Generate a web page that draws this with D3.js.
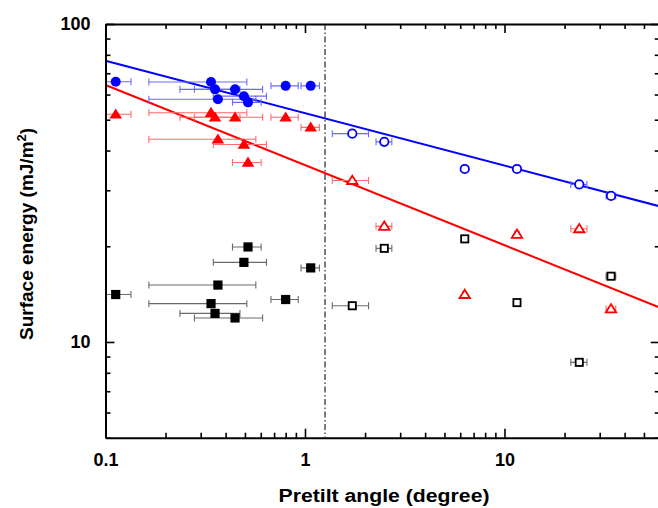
<!DOCTYPE html>
<html><head><meta charset="utf-8">
<script src="https://cdn.jsdelivr.net/npm/d3@7"></script>
<style>
html,body{margin:0;padding:0;background:#fff;}
svg{display:block;font-family:"Liberation Sans",Arial,sans-serif;}
</style></head>
<body><svg id="c" width="658" height="508"></svg>
<script>
// --- data ---
// filled (below boundary) samples
const filledX    = [0.1125, 0.338, 0.354, 0.366, 0.446, 0.494, 0.518, 0.80, 1.068];
const filledXErr = [0.0217, 0.173, 0.118, 0.201, 0.167, 0.147, 0.085, 0.125, 0.113];
const filledBlue = [65.8, 65.7, 62.3, 58.0, 62.3, 59.3, 56.7, 63.9, 63.9];
const filledRed  = [52.0, 52.6, 50.9, 43.4, 50.9, 41.8, 36.7, 50.9, 47.3];
const filledBlack= [14.1, 13.2, 12.3, 15.1, 11.9, 17.8, 19.9, 13.6, 17.1];
// open (above boundary) samples
const openX     = [1.726, 2.497, 6.32, 11.55, 23.7, 34.2];
const openXErr  = [0.356, 0.227, 0.15, 0.3, 2.2, 1.9];
const openBlue  = [45.2, 42.6, 35.0, 35.0, 31.3, 28.8];
const openRed   = [32.2, 23.1, 14.1, 21.8, 22.7, 12.7];
const openBlack = [13.0, 19.7, 21.1, 13.3, 8.63, 16.1];
// power-law fit lines (endpoints)
const fitX     = [0.1, 60];
const fitBlueY = [76.6, 26.7];
const fitRedY  = [64.3, 12.83];
const boundaryX = 1.26;
// axes
const xDomain = [0.1, 60];
const yDomain = [5, 100];
const xTickLabels = [0.1, 1, 10];
const yTickLabels = [10, 100];
const xTitle = "Pretilt angle (degree)";
const yTitle = "Surface energy (mJ/m";

// --- layout ---
const L = 105.5, T = 24, B = 437.7;
const R = L + 199.5 * Math.log10(xDomain[1] / xDomain[0]);
const svg = d3.select("#c");
const x = d3.scaleLog().domain(xDomain).range([L, R]);
const y = d3.scaleLog().domain(yDomain).range([B, T]);

svg.append("defs").append("clipPath").attr("id","clip")
  .append("rect").attr("x",L).attr("y",T).attr("width",R-L).attr("height",B-T);

const COL = {blue:"#0000ff", red:"#ff0000", black:"#000000"};
const ECOL = {blue:"#6a6aff", red:"#ff6a6a", black:"#6a6a6a"};

const plot = svg.append("g").attr("clip-path","url(#clip)");

// boundary line
plot.append("line").attr("x1",x(boundaryX)).attr("x2",x(boundaryX))
  .attr("y1",T).attr("y2",B).attr("stroke","#222").attr("stroke-width",1.2)
  .attr("stroke-dasharray","6,2.5,1.5,2.5");

// fit lines
const line = d3.line().x(d=>x(d[0])).y(d=>y(d[1]));
plot.append("path").attr("d", line(fitX.map((v,i)=>[v,fitBlueY[i]])))
  .attr("fill","none").attr("stroke",COL.blue).attr("stroke-width",2);
plot.append("path").attr("d", line(fitX.map((v,i)=>[v,fitRedY[i]])))
  .attr("fill","none").attr("stroke",COL.red).attr("stroke-width",2);

function errorBars(xs, errs, ys, color){
  const g = plot.append("g").attr("stroke",color).attr("stroke-width",1.1).attr("fill","none");
  xs.forEach((v,i)=>{
    const x0 = x(v - errs[i]), x1 = x(v + errs[i]), yy = y(ys[i]);
    g.append("line").attr("x1",x0).attr("x2",x1).attr("y1",yy).attr("y2",yy);
    g.append("line").attr("x1",x0).attr("x2",x0).attr("y1",yy-3.5).attr("y2",yy+3.5);
    g.append("line").attr("x1",x1).attr("x2",x1).attr("y1",yy-3.5).attr("y2",yy+3.5);
  });
}
function markers(xs, ys, shape, color, filled){
  const g = plot.append("g");
  xs.forEach((v,i)=>{
    const cx = x(v), cy = y(ys[i]);
    let el;
    if(shape==="circle"){
      el = g.append("circle").attr("cx",cx).attr("cy",cy).attr("r", filled?5:4.2);
    } else if(shape==="triangle"){
      const s = filled?6.3:5.2, h = s*1.6;
      el = g.append("path").attr("d",`M${cx},${cy-h*0.58}L${cx+s},${cy+h*0.42}L${cx-s},${cy+h*0.42}Z`);
    } else {
      const s = filled?4.6:3.6;
      el = g.append("rect").attr("x",cx-s).attr("y",cy-s).attr("width",2*s).attr("height",2*s);
    }
    if(filled) el.attr("fill",color);
    else el.attr("fill","#fff").attr("stroke",color).attr("stroke-width",1.8);
  });
}

errorBars(filledX, filledXErr, filledBlack, ECOL.black);
errorBars(filledX, filledXErr, filledRed, ECOL.red);
errorBars(filledX, filledXErr, filledBlue, ECOL.blue);
errorBars(openX, openXErr, openBlack, ECOL.black);
errorBars(openX, openXErr, openRed, ECOL.red);
errorBars(openX, openXErr, openBlue, ECOL.blue);

markers(filledX, filledBlack, "square", COL.black, true);
markers(filledX, filledRed, "triangle", COL.red, true);
markers(filledX, filledBlue, "circle", COL.blue, true);
markers(openX, openBlack, "square", COL.black, false);
markers(openX, openRed, "triangle", COL.red, false);
markers(openX, openBlue, "circle", COL.blue, false);

// --- axes ---
function allTicks(dom){
  const out=[];
  for(let e=Math.floor(Math.log10(dom[0])); e<=Math.ceil(Math.log10(dom[1])); e++){
    for(let m=1;m<10;m++){ const v=m*Math.pow(10,e); if(v>=dom[0]*0.999 && v<=dom[1]*1.001) out.push(v); }
  }
  return out;
}
const isMajor = v => Math.abs(Math.log10(v) - Math.round(Math.log10(v))) < 1e-6;
const xt = allTicks(xDomain), yt = allTicks(yDomain);

function styleAxis(g, labels){
  g.select(".domain").attr("stroke","#000").attr("stroke-width",2);
  g.selectAll(".tick line").attr("stroke","#000").attr("stroke-width",1.6);
  g.selectAll(".tick text").attr("fill","#000").attr("font-size","18px").attr("font-weight","bold")
    .text(d => labels.some(l=>Math.abs(l-d)<1e-9) ? d3.format("~g")(d) : "");
}
const axB = svg.append("g").attr("transform",`translate(0,${B})`)
  .call(d3.axisBottom(x).tickValues(xt).tickSizeOuter(0).tickSizeInner(-5).tickPadding(16));
styleAxis(axB, xTickLabels);
axB.selectAll(".tick line").attr("y2", d=> isMajor(d)?-9:-5);
const axT = svg.append("g").attr("transform",`translate(0,${T})`)
  .call(d3.axisTop(x).tickValues(xt).tickSizeOuter(0).tickSizeInner(-5));
styleAxis(axT, []);
axT.selectAll(".tick line").attr("y2", d=> isMajor(d)?9:5);
const axL = svg.append("g").attr("transform",`translate(${L},0)`)
  .call(d3.axisLeft(y).tickValues(yt).tickSizeOuter(0).tickSizeInner(-5).tickPadding(15));
styleAxis(axL, yTickLabels);
axL.selectAll(".tick line").attr("x2", d=> isMajor(d)?9:5);
const axR = svg.append("g").attr("transform",`translate(${R},0)`)
  .call(d3.axisRight(y).tickValues(yt).tickSizeOuter(0).tickSizeInner(-5));
styleAxis(axR, []);
axR.selectAll(".tick line").attr("x2", d=> isMajor(d)?-9:-5);

// titles
svg.append("text").attr("x",384).attr("y",502).attr("text-anchor","middle")
  .attr("font-size","18px").attr("font-weight","bold")
  .attr("textLength",211).attr("lengthAdjust","spacingAndGlyphs").text(xTitle);
const yt2 = svg.append("text").attr("transform",`translate(33,340) rotate(-90)`)
  .attr("text-anchor","start").attr("font-size","19px").attr("font-weight","bold");
yt2.append("tspan").text(yTitle);
yt2.append("tspan").attr("dy",-7).attr("font-size","13px").text("2");
yt2.append("tspan").attr("dy",7).text(")");
</script></body></html>
